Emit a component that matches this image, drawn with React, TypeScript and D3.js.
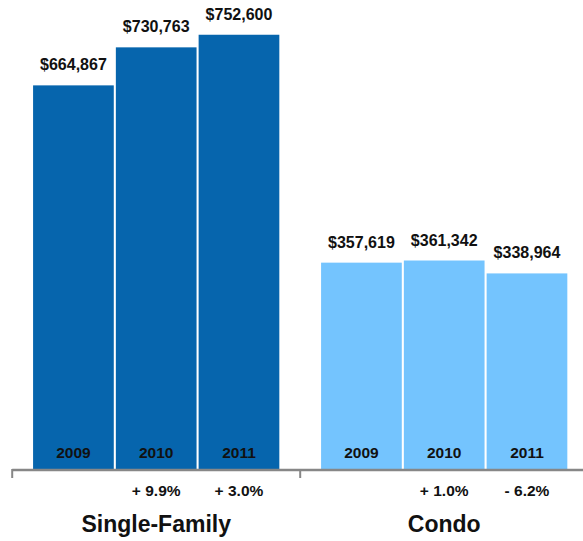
import React from "react";
import * as d3 from "d3";

const years = ["2009", "2010", "2011"];
const categories = ["Single-Family", "Condo"];
const singleFamily = [664867, 730763, 752600];
const condo = [357619, 361342, 338964];
const singleFamilyChange = ["", "+ 9.9%", "+ 3.0%"];
const condoChange = ["", "+ 1.0%", "- 6.2%"];

const W = 583;
const H = 541;
const FONT = "'Liberation Sans', Arial, Helvetica, sans-serif";

export default function App() {
  const series = [
    { name: categories[0], values: singleFamily, change: singleFamilyChange, color: "#0665ad" },
    { name: categories[1], values: condo, change: condoChange, color: "#74c4fe" },
  ];

  const baseY = 469;
  const x0 = d3.scaleBand<string>().domain(categories).range([12.2, 588.2]).paddingInner(0.145).paddingOuter(0.0725);
  const x1 = d3.scaleBand<string>().domain(years).range([0, x0.bandwidth()]).paddingInner(0.025);
  const y = d3.scaleLinear().domain([0, 800000]).range([baseY, 7.4]);
  const fmt = d3.format("$,");

  const half = (x0.step() * x0.paddingInner()) / 2;
  const boundaries = categories.map(c => (x0(c) as number) - half);

  return (
    <svg width={W} height={H} style={{ position: "absolute", left: 0, top: 0 }} fontFamily={FONT}>
      <rect width={W} height={H} fill="#fff" />
      {series.map(s => {
        const gx = x0(s.name) as number;
        return (
          <g key={s.name} transform={`translate(${gx},0)`}>
            {s.values.map((v, i) => {
              const bx = x1(years[i]) as number;
              const cx = bx + x1.bandwidth() / 2;
              return (
                <g key={years[i]}>
                  <rect x={bx} y={y(v)} width={x1.bandwidth()} height={baseY - y(v)} fill={s.color} />
                  <text x={cx} y={y(v) - 15} textAnchor="middle" fontSize={16} fontWeight="bold" fill="#111">
                    {fmt(v)}
                  </text>
                  <text x={cx} y={458.3} textAnchor="middle" fontSize={15.5} fontWeight="bold" fill="#111">
                    {years[i]}
                  </text>
                  {s.change[i] && (
                    <text x={cx} y={496} textAnchor="middle" fontSize={15.5} fontWeight="bold" fill="#111">
                      {s.change[i]}
                    </text>
                  )}
                </g>
              );
            })}
            <text x={x0.bandwidth() / 2} y={531.5} textAnchor="middle" fontSize={23} fontWeight="bold" fill="#111">
              {s.name}
            </text>
          </g>
        );
      })}
      <line x1={boundaries[0]} x2={588} y1={470} y2={470} stroke="#878787" strokeWidth={2.5} />
      {boundaries.map((b, i) => (
        <line key={i} x1={b} x2={b} y1={469} y2={478} stroke="#878787" strokeWidth={2} />
      ))}
    </svg>
  );
}
